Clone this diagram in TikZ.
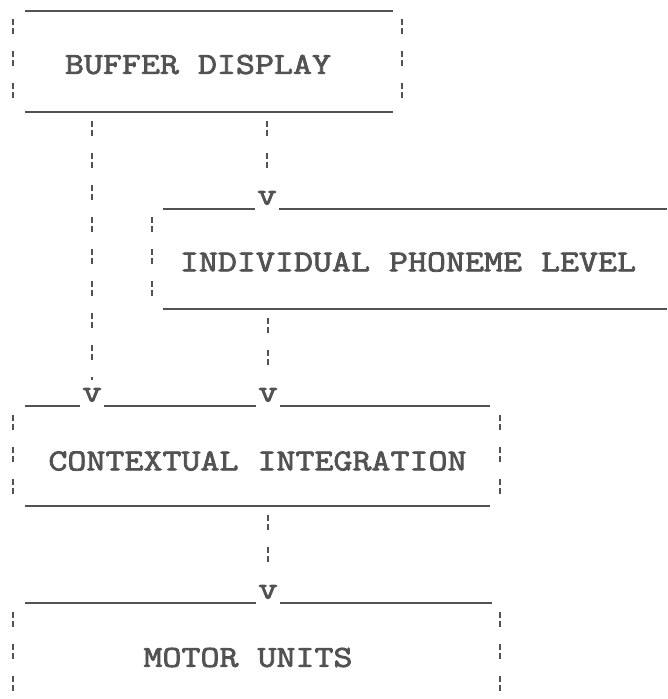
\documentclass[tikz,border=0pt]{standalone}
\usepackage{fontspec}
\newfontfamily\typewriter[FakeStretch=1.21, FakeBold=2.5]{Latin Modern Mono}
\usepackage{tikz}
\usetikzlibrary{positioning}
\definecolor{ink}{gray}{0.32}

\begin{document}
\begin{tikzpicture}[x=1pt, y=-1pt,
    blockbox/.style={minimum height=100pt, inner sep=0pt},
    title/.style={inner sep=0pt, text=ink, font=\typewriter\fontsize{30.5}{36}\selectfont},
    vmark/.style={anchor=south, inner sep=0pt, inner xsep=2pt, text=ink, font=\typewriter\fontsize{31.5}{36}\selectfont},
    solidline/.style={draw=ink, line width=1.8pt},
    dashline/.style={draw=ink, line width=2pt, dash pattern=on 6pt off 3pt on 6pt off 17pt}]

\useasboundingbox (0,0) rectangle (667,699);

% Block outlines placed at absolute coordinates (pixel grid of the page)
\node[blockbox, minimum width=368pt] (buf) at (209, 61.5) {};
\node[blockbox, minimum width=504pt] (ipl) at (415, 259) {};
\node[blockbox, minimum width=465pt] (ci) at (257.5, 456) {};
\node[blockbox, minimum width=467pt] (mu) at (258.5, 653) {};

% Block titles
\node[title] (buftext) at (198, 64.5) {BUFFER DISPLAY};
\node[title] (ipltext) at (408, 262) {INDIVIDUAL PHONEME LEVEL};
\node[title] (citext) at (257.5, 461) {CONTEXTUAL INTEGRATION};
\node[title] (mutext) at (248, 657.5) {MOTOR UNITS};

% The "v" heads sitting on the top rules
\node[vmark] (vipl) at (267, 205) {v};
\node[vmark] (vcia) at (92, 402) {v};
\node[vmark] (vcib) at (268, 402) {v};
\node[vmark] (vmu) at (268, 599) {v};

% BUFFER DISPLAY frame
\draw[solidline] (buf.north west) -- (buf.north east);
\draw[solidline] (buf.south west) -- (buf.south east);
\draw[dashline] ([xshift=-12pt, yshift=-8pt]buf.north west) -- ([xshift=-12pt]buf.south west);
\draw[dashline] ([xshift=9pt, yshift=-8pt]buf.north east) -- ([xshift=9pt]buf.south east);

% INDIVIDUAL PHONEME LEVEL frame (runs off the right edge)
\draw[solidline] (ipl.north west) -- (vipl.west |- ipl.north);
\draw[solidline] (vipl.east |- ipl.north) -- (ipl.north east);
\draw[solidline] (ipl.south west) -- (ipl.south east);
\draw[dashline] ([xshift=-11pt, yshift=-8pt]ipl.north west) -- ([xshift=-11pt]ipl.south west);

% CONTEXTUAL INTEGRATION frame
\draw[solidline] (ci.north west) -- (vcia.west |- ci.north);
\draw[solidline] (vcia.east |- ci.north) -- (vcib.west |- ci.north);
\draw[solidline] (vcib.east |- ci.north) -- (ci.north east);
\draw[solidline] (ci.south west) -- (ci.south east);
\draw[dashline] ([xshift=-12pt, yshift=-9pt]ci.north west) -- ([xshift=-12pt]ci.south west);
\draw[dashline] ([xshift=10pt, yshift=-9pt]ci.north east) -- ([xshift=10pt]ci.south east);

% MOTOR UNITS frame (bottom cut off by the page)
\draw[solidline] (mu.north west) -- (vmu.west |- mu.north);
\draw[solidline] (vmu.east |- mu.north) -- (mu.north east);
\draw[dashline] ([xshift=-12pt, yshift=-9pt]mu.north west) -- ([xshift=-12pt]mu.south west);
\draw[dashline] ([xshift=8pt, yshift=-9pt]mu.north east) -- ([xshift=8pt]mu.south east);

% Dashed connectors down to the v heads
\draw[dashline, shorten <=9pt, shorten >=8pt] (buf.south -| vcia) -- (vcia.north);
\draw[dashline, shorten <=9pt, shorten >=8pt] (buf.south -| vipl) -- (vipl.north);
\draw[dashline, shorten <=9pt, shorten >=8pt] (ipl.south -| vcib) -- (vcib.north);
\draw[dashline, shorten <=9pt, shorten >=8pt] (ci.south -| vmu) -- (vmu.north);

\end{tikzpicture}
\end{document}
